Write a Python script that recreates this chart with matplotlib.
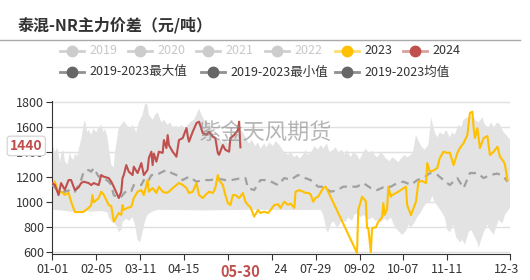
import numpy as np
import matplotlib.pyplot as plt
from matplotlib.lines import Line2D
from matplotlib.transforms import Bbox, TransformedBbox

plt.rcParams['font.family'] = ['Noto Sans CJK SC', 'DejaVu Sans']

W, H = 530, 280

# 2019-2023 range (max / min), day of year -> value
max_days = [0, 2, 4, 6, 7, 9, 10, 12, 14, 15, 17, 18, 20, 21, 23, 25, 26, 28, 29, 31,
            33, 35, 37, 39, 41, 42, 44, 45, 47, 49, 50, 52, 53, 55, 57, 60, 62, 64, 67, 69,
            72, 74, 76, 77, 80, 82, 84, 87, 89, 92, 94, 96, 99, 101, 103, 106, 108, 111, 113, 115,
            117, 119, 121, 123, 126, 128, 130, 133, 135, 138, 140, 142, 145, 147, 150, 152, 154, 157, 159, 162,
            164, 166, 169, 171, 173, 176, 178, 181, 183, 185, 188, 190, 193, 195, 197, 200, 202, 204, 207, 209,
            212, 214, 216, 219, 221, 224, 226, 228, 231, 233, 235, 238, 240, 243, 245, 247, 250, 252, 255, 257,
            259, 262, 264, 266, 269, 271, 274, 276, 278, 281, 283, 286, 288, 290, 293, 295, 297, 300, 302, 305,
            307, 309, 312, 314, 317, 319, 321, 324, 326, 328, 331, 333, 336, 338, 340, 343, 345, 348, 350, 352,
            355, 357, 360, 362, 365]
max_vals = [1470, 1400, 1440, 1320, 1380, 1420, 1330, 1300, 1400, 1360, 1340, 1390, 1370, 1420, 1500, 1620, 1660, 1560, 1580, 1540,
            1590, 1560, 1600, 1620, 1560, 1590, 1520, 1440, 1300, 1280, 1400, 1530, 1600, 1620, 1650, 1610, 1590, 1620, 1560, 1640,
            1700, 1790, 1780, 1700, 1660, 1700, 1720, 1640, 1660, 1620, 1640, 1600, 1610, 1590, 1620, 1580, 1620, 1650, 1660, 1700,
            1750, 1700, 1660, 1640, 1620, 1560, 1500, 1520, 1480, 1500, 1470, 1520, 1560, 1540, 1580, 1560, 1520, 1470, 1500, 1450,
            1480, 1430, 1470, 1440, 1480, 1450, 1490, 1460, 1430, 1400, 1380, 1400, 1360, 1380, 1350, 1380, 1420, 1380, 1410, 1450,
            1420, 1460, 1430, 1470, 1400, 1420, 1440, 1400, 1420, 1380, 1420, 1360, 1400, 1380, 1340, 1380, 1430, 1400, 1410, 1380,
            1360, 1400, 1380, 1350, 1330, 1360, 1340, 1320, 1350, 1380, 1360, 1380, 1420, 1540, 1470, 1440, 1420, 1460, 1680, 1560,
            1520, 1560, 1540, 1580, 1520, 1560, 1540, 1620, 1600, 1660, 1680, 1690, 1680, 1650, 1640, 1680, 1620, 1600, 1640, 1600,
            1640, 1620, 1560, 1540, 1500]

min_days = [0, 7, 15, 23, 31, 39, 44, 45, 47, 49, 52, 53, 55, 56, 59, 61, 64, 66, 68, 70,
            72, 74, 76, 79, 81, 84, 120, 160, 200, 214, 216, 219, 220, 222, 224, 227, 229, 231, 234, 236,
            239, 241, 243, 246, 248, 251, 253, 255, 258, 260, 262, 265, 267, 270, 272, 274, 277, 279, 282, 284,
            286, 289, 291, 294, 296, 298, 301, 303, 305, 308, 310, 313, 315, 317, 320, 322, 325, 327, 329, 332,
            334, 336, 339, 340, 342, 344, 347, 349, 352, 354, 356, 359, 361, 364, 365]
min_vals = [940, 935, 925, 930, 925, 930, 920, 880, 850, 840, 800, 760, 780, 840, 870, 850, 880, 820, 700, 680,
            760, 850, 900, 920, 930, 940, 935, 940, 938, 940, 900, 770, 760, 820, 850, 800, 820, 860, 840, 880,
            850, 900, 910, 880, 900, 870, 860, 880, 850, 860, 840, 870, 850, 880, 830, 790, 760, 740, 770, 820,
            800, 840, 880, 920, 960, 990, 1000, 1050, 1000, 960, 930, 880, 780, 760, 820, 720, 680, 700, 660, 760,
            780, 740, 680, 635, 700, 760, 820, 780, 740, 800, 860, 830, 900, 940, 955]

# 2019-2023 mean
mean_days = [0, 2, 5, 7, 10, 13, 15, 18, 21, 23, 25, 29, 31, 33, 37, 39, 41, 45, 47, 49,
             53, 55, 57, 60, 63, 65, 68, 71, 73, 76, 79, 83, 87, 91, 95, 99, 104, 109, 115, 120,
             126, 132, 138, 144, 149, 154, 156, 161, 166, 172, 180, 185, 190, 196, 200, 206, 212, 216, 222, 227,
             232, 238, 243, 248, 254, 259, 264, 270, 275, 280, 286, 291, 296, 301, 307, 312, 317, 323, 328, 333,
             339, 344, 349, 355, 360, 363]
mean_vals = [1138, 1120, 1085, 1075, 1085, 1095, 1074, 1085, 1138, 1178, 1245, 1258, 1245, 1274, 1205, 1210, 1195, 1165, 1140, 1058,
             1034, 1045, 1070, 1098, 1090, 1138, 1145, 1138, 1178, 1160, 1218, 1218, 1240, 1258, 1235, 1218, 1178, 1205, 1165, 1178,
             1178, 1190, 1178, 1180, 1190, 1194, 1114, 1098, 1178, 1178, 1138, 1194, 1180, 1218, 1200, 1178, 1125, 1125, 1085, 1095,
             1125, 1125, 1125, 1154, 1114, 1098, 1120, 1125, 1154, 1165, 1140, 1178, 1194, 1234, 1220, 1178, 1138, 1194, 1114, 1234,
             1234, 1194, 1218, 1230, 1205, 1165]

days_2023 = [2, 5, 7, 10, 13, 15, 18, 23, 25, 29, 31, 32, 33, 37, 39, 41, 45, 47, 49, 53,
             55, 56, 57, 60, 63, 65, 68, 71, 73, 76, 77, 80, 83, 85, 88, 91, 93, 96, 101, 104,
             107, 109, 112, 115, 117, 120, 122, 125, 128, 130, 132, 133, 136, 138, 140, 142, 144, 146, 149, 152,
             154, 156, 158, 161, 164, 166, 169, 172, 174, 177, 180, 182, 185, 188, 190, 193, 194, 197, 200, 202,
             204, 206, 208, 210, 212, 216, 218, 220, 243, 244, 247, 250, 251, 252, 254, 255, 258, 260, 263, 264,
             265, 267, 268, 270, 271, 276, 282, 283, 286, 290, 292, 295, 298, 299, 301, 304, 307, 309, 312, 315,
             317, 320, 323, 325, 328, 331, 333, 335, 336, 337, 339, 341, 344, 347, 349, 352, 355, 357, 360, 361,
             363]
vals_2023 = [1165, 1075, 1085, 1060, 1075, 1005, 922, 922, 925, 955, 978, 1058, 1000, 1034, 1085, 1060, 978, 970, 845, 914,
             900, 978, 940, 955, 965, 1034, 1085, 1098, 1058, 1178, 1085, 1114, 1075, 1125, 1085, 1075, 1085, 1114, 1154, 1140,
             1114, 1074, 1085, 1154, 1058, 1034, 1058, 1085, 1074, 1114, 1218, 1178, 1138, 1058, 994, 978, 1058, 1058, 1034, 1074,
             1005, 978, 960, 885, 938, 914, 925, 914, 938, 978, 985, 955, 1005, 980, 990, 955, 1085, 1098, 1085, 1075,
             1075, 1065, 1005, 1035, 1045, 1114, 1125, 1085, 595, 938, 1045, 1010, 794, 794, 602, 794, 800, 845, 880, 994,
             900, 945, 1125, 1045, 1058, 1085, 1125, 978, 898, 1005, 1165, 1170, 1154, 1314, 1245, 1255, 1274, 1354, 1405, 1395,
             1398, 1298, 1395, 1434, 1474, 1538, 1714, 1725, 1594, 1514, 1594, 1434, 1514, 1530, 1378, 1405, 1445, 1365, 1325, 1298,
             1178]

days_2024 = [0, 2, 5, 7, 10, 13, 15, 18, 21, 23, 25, 29, 31, 33, 37, 39, 41, 45, 47, 49,
             53, 55, 56, 57, 59, 61, 64, 65, 68, 71, 73, 76, 77, 79, 80, 81, 83, 85, 88, 89,
             91, 92, 93, 96, 99, 101, 104, 107, 108, 109, 112, 115, 117, 120, 123, 125, 128, 130, 132, 133,
             136, 138, 141, 142, 145, 148, 149, 150]
vals_2024 = [1154, 1140, 1058, 1154, 1100, 1178, 1178, 1098, 1120, 1154, 1165, 1154, 1138, 1154, 1138, 1218, 1205, 1194, 1165, 1125,
             1034, 1085, 1194, 1218, 1298, 1245, 1218, 1285, 1234, 1314, 1218, 1260, 1354, 1405, 1298, 1390, 1325, 1405, 1395, 1498,
             1434, 1538, 1458, 1405, 1365, 1498, 1514, 1594, 1530, 1485, 1565, 1634, 1645, 1554, 1540, 1565, 1525, 1515, 1394, 1380,
             1458, 1420, 1405, 1514, 1538, 1578, 1645, 1440]

tick_days = [0, 35, 70, 105, 140, 175, 210, 245, 280, 315, 365]
tick_labels = ['01-01', '02-05', '03-11', '04-15', '', '06-24', '07-29', '09-02', '10-07', '11-11', '12-31']
last_day, last_label = 150, '05-30'

legend_row1 = ['2019', '2020', '2021', '2022', '2023', '2024']
legend_row2 = ['2019-2023最大值', '2019-2023最小值', '2019-2023均值']

C23, C24 = '#FFC000', '#C0504D'

fig = plt.figure(figsize=(W / 100, H / 100), dpi=100)
ax = fig.add_axes([52.3 / W, 25.7 / H, 457.7 / W, 153.6 / H])

ax.fill(np.r_[max_days, min_days[::-1]], np.r_[max_vals, min_vals[::-1]],
        color='#e3e3e3', lw=0, zorder=1)
ax.plot(mean_days, mean_vals, color='#a0a0a0', lw=1.6, dashes=(3.5, 2.5), zorder=3)
ax.plot(days_2023, vals_2023, color=C23, lw=1.5, zorder=4)
ax.plot(days_2024, vals_2024, color=C24, lw=1.5, zorder=5)

ax.set_xlim(0, 365)
ax.set_ylim(584, 1813)
ax.set_yticks(range(600, 1801, 200))
ax.set_xticks(tick_days)
ax.set_xticklabels(tick_labels)
ax.grid(axis='y', color='#e0e0e0', lw=1)
ax.set_axisbelow(True)
for s in ['top', 'right']:
    ax.spines[s].set_visible(False)
for s in ['left', 'bottom']:
    ax.spines[s].set_color('#333333')
ax.tick_params(axis='both', colors='#333333', labelsize=9, length=4, pad=2)

# clip tick labels the way the original shows them
xlbls = ax.get_xticklabels()
xlbls[-1].set_clip_box(TransformedBbox(Bbox([[0, 0], [519 / W, 1]]), fig.transFigure))
xlbls[-1].set_clip_on(True)
xlbls[5].set_clip_box(TransformedBbox(Bbox([[275 / W, 0], [1, 1]]), fig.transFigure))
xlbls[5].set_clip_on(True)

# latest value / date labels
ax.annotate(f'{vals_2024[-1]}', xy=(0, vals_2024[-1]), xycoords=('axes fraction', 'data'),
            xytext=(-7, 1), textcoords='offset points', ha='right', va='center',
            color=C24, fontsize=10, fontweight='bold', zorder=10, annotation_clip=False,
            bbox=dict(boxstyle='round,pad=0.2', fc='white', ec='#d0d0d0', lw=0.8))
ax.annotate(last_label, xy=(last_day, 0), xycoords=('data', 'axes fraction'),
            xytext=(0, -13), textcoords='offset points', ha='center', va='center',
            color=C24, fontsize=10.5, fontweight='bold', zorder=10, annotation_clip=False,
            bbox=dict(boxstyle='square,pad=0.2', fc='white', ec='none'))

ax.text(0.465, 0.79, '紫金天风期货', transform=ax.transAxes, ha='center', va='center',
        fontsize=16, color='#888888', alpha=0.6, zorder=8)

# title
fig.text(18 / W, 1 - 25 / H, '泰混-NR主力价差（元/吨）', ha='left', va='center',
         fontsize=11.5, fontweight='bold', color='#333333')
fig.add_artist(Line2D([0, 520 / W], [1 - 40 / H] * 2, transform=fig.transFigure,
                      color='#aaaaaa', lw=1))


# legend
def legend_item(x, y, label, line_c, mark_c, text_c):
    fy = 1 - y / H
    fig.add_artist(Line2D([(x - 12) / W, (x + 12) / W], [fy, fy], transform=fig.transFigure,
                          color=line_c, lw=2))
    fig.add_artist(Line2D([x / W], [fy], transform=fig.transFigure, marker='o',
                          ms=7.5, color=mark_c, mec=mark_c))
    fig.text((x + 17) / W, fy, label, ha='left', va='center', fontsize=9, color=text_c)


row1_x = [72, 140, 208, 277, 347, 415]
row1_style = [('#d0d0d0', '#cccccc', '#c8c8c8')] * 4 + [('#ffdc70', C23, '#333333'),
                                                       ('#dda0a0', C24, '#333333')]
for x, lab, st in zip(row1_x, legend_row1, row1_style):
    legend_item(x, 50.5, lab, *st)
for x, lab in zip([72, 213, 347], legend_row2):
    legend_item(x, 72, lab, '#909090', '#666666', '#333333')

fig.savefig('out.png', dpi=100)
